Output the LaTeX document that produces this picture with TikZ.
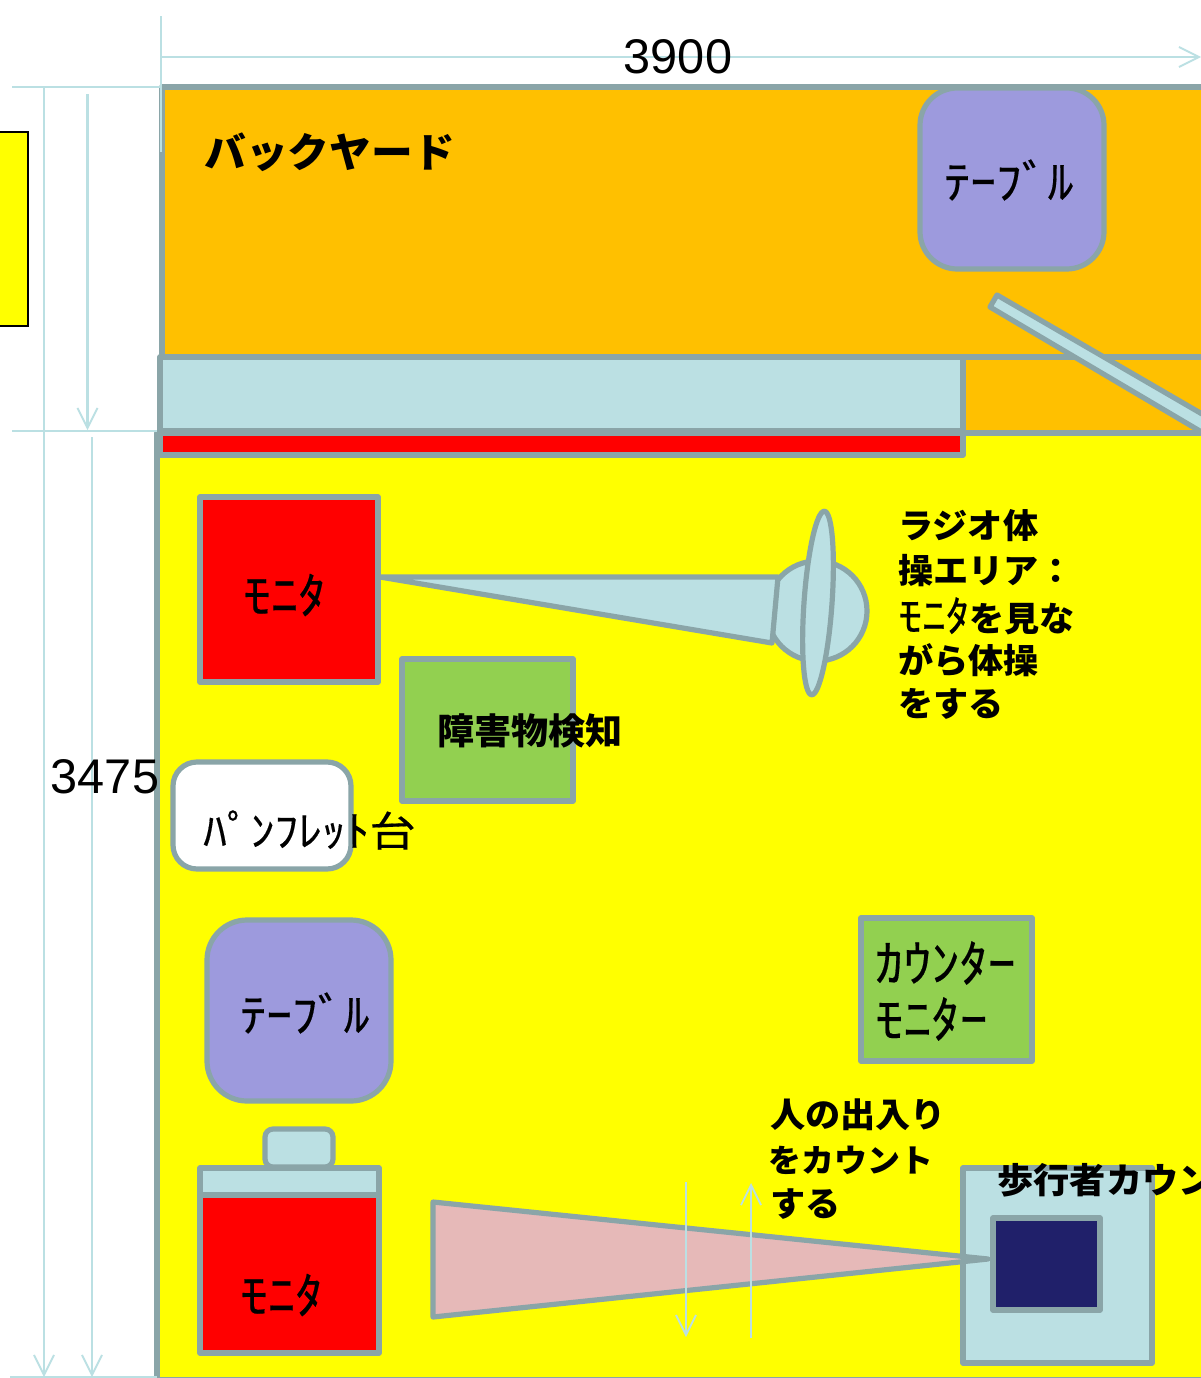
\documentclass[tikz,border=0pt]{standalone}
\usepackage{fontspec}
\setmainfont{Liberation Sans}
\newfontfamily\jp[FakeStretch=1.03]{Noto Sans CJK JP}
\newfontfamily\jphw[FakeBold=0.35,FakeStretch=1.12]{Noto Sans CJK JP}
\definecolor{edgeg}{HTML}{8AA5A8}
\definecolor{paleb}{HTML}{BBE0E3}
\definecolor{orng}{HTML}{FFC000}
\definecolor{viol}{HTML}{9D9ADD}
\definecolor{leaf}{HTML}{92D050}
\definecolor{pinkt}{HTML}{E6B9B8}
\definecolor{navyb}{HTML}{20206A}
\definecolor{yel}{RGB}{255,255,0}
\definecolor{rd}{RGB}{255,0,0}
\usetikzlibrary{arrows.meta}
\tikzset{
  part/.style={draw=edgeg,line width=3.9pt,line join=round},
  dim/.style={draw=paleb,line width=1.7pt},
  dimarrow/.style={dim,-{Straight Barb[length=15pt,width=15pt,line width=1.4pt]}},
  blab/.style={font=\jp\bfseries\fontsize{#1}{#1}\selectfont,inner sep=0pt,anchor=west,text=black},
  hw/.style={font=\jphw\fontsize{#1}{#1}\selectfont,inner sep=0pt,anchor=west,text=black},
  num/.style={font=\fontsize{36.5}{36.5}\selectfont,inner sep=0pt,text=black}
}
\begin{document}
\begin{tikzpicture}[x=0.75pt,y=-0.75pt]
\useasboundingbox (0,0) rectangle (1201,1378);
\clip (0,0) rectangle (1201,1378);
\fill[white] (0,0) rectangle (1201,1378);
% left swatch
\draw[fill=yel,draw=black,line width=1.2pt] (-5,132) rectangle (28,326);
% rooms
\draw[part,fill=orng] (162,87) rectangle (1230,357);
\draw[part,fill=orng] (162,357) rectangle (1230,433);
\draw[part,fill=yel] (157,433) rectangle (1230,1380);
\draw[part,fill=paleb] (160,357) rectangle (963,431);
\draw[part,fill=rd] (160,433) rectangle (963,455);
% door
\draw[part,fill=paleb] (997,295) -- (1240,436) -- (1232,450) -- (990,307) -- cycle;
% backyard table
\draw[part,fill=viol,rounded corners=28pt] (920,88) rectangle (1104,269);
% dimension lines
\draw[dim] (161,16) -- (161,152);
\draw[dim] (12,87) -- (162,87);
\draw[dim] (12,431) -- (157,431);
\draw[dim] (10,1377) -- (157,1377);
\draw[dimarrow] (161,57) -- (1201,57);
\draw[dimarrow] (44,87) -- (44,1377);
\draw[dimarrow] (87.5,94) -- (87.5,430);
\draw[dimarrow] (92,437) -- (92,1377);
% monitor 1
\draw[part,fill=rd] (200,497) rectangle (378,682);
% speaker
\draw[part,fill=paleb] (817,611) circle[radius=50];
\draw[part,fill=paleb] (380,577) -- (778,577) -- (772,643) -- cycle;
\draw[part,fill=paleb,rotate around={-4:(818,603)}] (818,603) ellipse[x radius=14,y radius=92];
% boxes
\draw[part,fill=leaf] (402,659) rectangle (573,801);
\draw[part,fill=white,rounded corners=18pt] (173,762) rectangle (351,869);
\draw[part,fill=viol,rounded corners=30pt] (207,920) rectangle (391,1101);
\draw[part,fill=leaf] (861,918) rectangle (1032,1061);
% monitor 2
\draw[part,fill=paleb,rounded corners=6pt] (265,1129) rectangle (333,1167);
\draw[part,fill=paleb] (200,1168) rectangle (379,1195);
\draw[part,fill=rd] (200,1195) rectangle (379,1353);
% sensor
\draw[part,fill=paleb] (963,1168) rectangle (1152,1363);
\draw[part,fill=navyb] (993,1218) rectangle (1100,1310);
\draw[part,fill=pinkt] (433,1202) -- (988,1259) -- (433,1317) -- cycle;
% counting arrows
\draw[dimarrow] (686,1182) -- (686,1337);
\draw[dimarrow] (751,1338) -- (751,1183);
% labels
\node[num] (w) at (678,57) {3900};
\node[num] (h) at (105,777) {3475};
\node[blab=30.4] (by) at (204,152) {バックヤード};
\node[hw=34.6] (t1) at (944,180) {ﾃｰﾌﾞﾙ};
\node[hw=34.6] (t2) at (240,1013) {ﾃｰﾌﾞﾙ};
\node[hw=36.8] (m1) at (243,595) {ﾓﾆﾀ};
\node[hw=36.8] (m2) at (240,1295) {ﾓﾆﾀ};
\node[blab=27] (ob) at (437,731) {障害物検知};
\node[hw=31.8] (pf) at (203,830) {ﾊﾟﾝﾌﾚｯﾄ{\jphw\fontsize{31}{31}\selectfont 台}};
\node[hw=37.6] (c1) at (875,963) {ｶｳﾝﾀｰ};
\node[hw=37.6] (c2) at (875,1019) {ﾓﾆﾀｰ};
\node[blab=25.6] (r1) at (898,526) {ラジオ体};
\node[blab=25.6] (r2) at (898,571) {操エリア：};
\node[blab=25.6] (r3) at (898,616) {{\jphw\mdseries\fontsize{31.8}{31.8}\selectfont ﾓﾆﾀ}を見な};
\node[blab=25.6] (r4) at (898,660) {がら体操};
\node[blab=25.6] (r5) at (898,704) {をする};
\node[blab=25.6] (p1) at (770,1115) {人の出入り};
\node[blab=24] (p2) at (768,1160) {をカウント};
\node[blab=25.6] (p3) at (770,1204) {する};
\node[blab=26.4] (ped) at (997,1180) {歩行者カウン};
\end{tikzpicture}
\end{document}
